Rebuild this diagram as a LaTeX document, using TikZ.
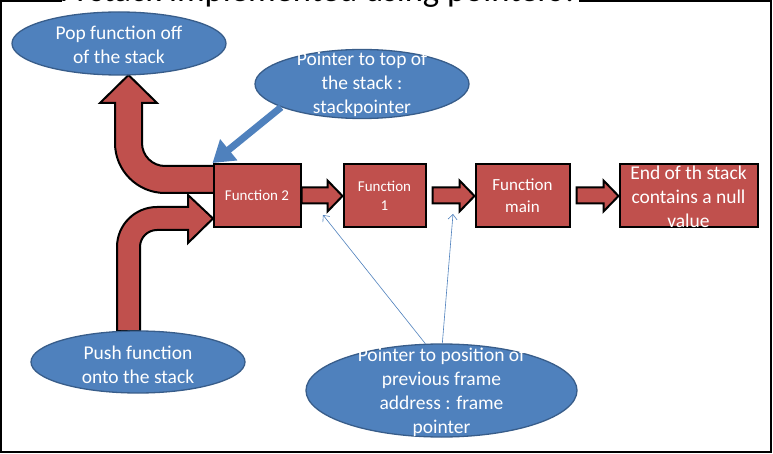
\documentclass[tikz,border=0pt]{standalone}
\usepackage{fontspec}
\setmainfont{Carlito}
\usetikzlibrary{shapes.geometric,arrows.meta,calc}
\definecolor{redfill}{HTML}{C0504D}
\definecolor{bluefill}{HTML}{4F81BD}
\definecolor{blueedge}{HTML}{385D8A}
\begin{document}
\begin{tikzpicture}[x=1pt,y=-1pt,
  redbox/.style={draw=black,line width=2pt,fill=redfill,inner sep=0pt},
  boxtext/.style={text=white,align=center,inner sep=0pt},
  blueell/.style={ellipse,draw=blueedge,line width=1.3pt,fill=bluefill,inner sep=0pt},
  elltext/.style={text=white,align=center,inner sep=0pt,font=\fontsize{19.5}{24}\selectfont},
  redarr/.style={draw=black,line width=2pt,fill=redfill,line join=miter},
  thinarr/.style={draw=bluefill,line width=0.6pt,-{Straight Barb[length=5pt,width=9pt]}},
  thickarr/.style={draw=bluefill,line width=7pt,-{Triangle[length=21pt,width=26pt]}}]
\useasboundingbox (0,0) rectangle (773,454);
\fill[white] (0,0) rectangle (773,454);
\draw[line width=2pt] (1,1) rectangle (771,452);
% title (cut off at the top)
\begin{scope}
\clip (0,0) rectangle (773,454);
\node[anchor=base west,fill=white,inner sep=0pt,font=\fontsize{34.6}{40}\selectfont] (title) at (62,1.5) {A stack implemented using pointers?};
\end{scope}
% curved block arrows
\filldraw[redarr] (214,166) -- (165,166) .. controls (152.3,166) and (142,155.7) .. (142,143) -- (142,103) -- (157,103) -- (128.5,75) -- (100,103) -- (115,103) -- (115,143) .. controls (115,170.6) and (137.4,193) .. (165,193) -- (214,193) -- cycle;
\filldraw[redarr] (117,331) -- (117,247) .. controls (117,224.9) and (134.9,207) .. (157,207) -- (188,207) -- (188,195) -- (213,218.5) -- (188,243) -- (188,230) -- (157,230) .. controls (147.6,230) and (140,237.6) .. (140,247) -- (140,331) -- cycle;
% boxes
\node[redbox,minimum width=87pt,minimum height=63pt] (f2) at (257,195.5) {};
\node[boxtext,font=\fontsize{15}{18.5}\selectfont] (f2t) at (f2) {Function 2};
\node[redbox,minimum width=82pt,minimum height=63pt] (f1) at (384.5,195.5) {};
\node[boxtext,font=\fontsize{15}{19}\selectfont] (f1t) at (f1) {Function\\1};
\node[redbox,minimum width=94pt,minimum height=63pt] (fm) at (522.5,195.5) {};
\node[boxtext,font=\fontsize{17}{22}\selectfont] (fmt) at (fm) {Function\\main};
\node[redbox,minimum width=138pt,minimum height=63pt] (en) at (688.5,195.5) {};
\node[boxtext,font=\fontsize{19.5}{24}\selectfont] (ent) at ($(en)+(0,1.5)$) {End of th stack\\contains a null\\value};
% straight block arrows
\newcommand{\blockarr}[3]{%
  \filldraw[redarr] ($(#1.east)+(#3,-8)$) -- ($(#2.west)+(-15,-8)$) -- ($(#2.west)+(-15,-15)$) -- ($(#2.west)+(0,0.5)$) -- ($(#2.west)+(-15,16)$) -- ($(#2.west)+(-15,8)$) -- ($(#1.east)+(#3,8)$) -- cycle;}
\blockarr{f2}{f1}{0}
\blockarr{f1}{fm}{6}
\blockarr{fm}{en}{6}
% ellipses
\node[blueell,minimum width=214pt,minimum height=63pt] (pop) at (119,43.5) {};
\node[elltext] (popt) at ($(pop)+(0,1.5)$) {Pop function off\\of the stack};
\node[blueell,minimum width=214pt,minimum height=69pt] (sp) at (362,84) {};
\node[elltext] (spt) at ($(sp)+(0,0)$) {Pointer to top of\\the stack :\\stackpointer};
\node[blueell,minimum width=214pt,minimum height=62pt] (push) at (138,362) {};
\node[elltext] (pusht) at ($(push)+(0,2.5)$) {Push function\\onto the stack};
\node[blueell,minimum width=271pt,minimum height=93pt] (fp) at (441.5,390.5) {};
\node[elltext] (fpt) at ($(fp)+(0,2)$) {Pointer to position of\\previous frame\\address : frame\\pointer};
% pointer arrows
\draw[thickarr] (sp.196) -- (f2.north west);
\coordinate (p1) at (323,215);
\coordinate (p2) at (453,214);
\draw[thinarr] (fp.109) -- (p1);
\draw[thinarr] (fp.89) -- (p2);
\end{tikzpicture}
\end{document}
